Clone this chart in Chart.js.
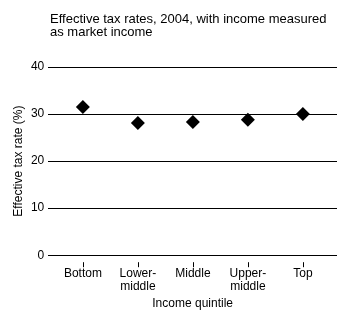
<!DOCTYPE html>
<html>
<head>
<meta charset="utf-8">
<script src="https://cdn.jsdelivr.net/npm/chart.js@4"></script>
<style>
  html, body { margin: 0; padding: 0; background: #fff; }
  #wrap { width: 350px; height: 325px; }
</style>
</head>
<body>
<div id="wrap"><canvas id="taxChart"></canvas></div>
<script>
        // Data
        const quintiles = [['Bottom'], ['Lower-', 'middle'], ['Middle'], ['Upper-', 'middle'], ['Top']];
        const taxRates = [31.5, 28.1, 28.3, 28.8, 30.0];
        const yTicks = [0, 10, 20, 30, 40];

        const font = { family: '"Liberation Sans", Arial, sans-serif', size: 12 };

        // Small tick marks that sit a little below the zero line
        const tickMarks = {
            id: 'tickMarks',
            afterDraw(chart) {
                const x = chart.scales.x;
                const c = chart.ctx;
                const bottom = chart.chartArea.bottom;
                c.save();
                c.strokeStyle = '#000';
                c.lineWidth = 1;
                x.ticks.forEach(t => {
                    const px = Math.round(x.getPixelForValue(t.value)) + 0.5;
                    c.beginPath();
                    c.moveTo(px, bottom + 7);
                    c.lineTo(px, bottom + 12);
                    c.stroke();
                });
                c.restore();
            }
        };

        // Move the title so it starts where the plot starts
        const titleShift = {
            id: 'titleShift',
            afterLayout(chart) {
                if (chart.titleBlock) chart.titleBlock.left = 50;
            }
        };

        const ctx = document.getElementById('taxChart').getContext('2d');
        const taxChart = new Chart(ctx, {
            type: 'scatter',
            data: {
                datasets: [{
                    data: taxRates.map((v, i) => ({ x: i, y: v })),
                    pointStyle: 'rectRot',
                    pointRadius: 7,
                    pointHoverRadius: 7,
                    backgroundColor: '#000',
                    borderColor: '#000',
                    borderWidth: 0
                }]
            },
            options: {
                responsive: true,
                maintainAspectRatio: false,
                animation: false,
                layout: { padding: { left: 11, right: 13, bottom: 14 } },
                plugins: {
                    legend: { display: false },
                    tooltip: { enabled: false },
                    title: {
                        display: true,
                        align: 'start',
                        text: ['Effective tax rates, 2004, with income measured', 'as market income'],
                        color: '#000',
                        font: { ...font, size: 13, weight: 'normal', lineHeight: 1.0 },
                        padding: { top: 13, bottom: 28 }
                    }
                },
                scales: {
                    x: {
                        type: 'linear',
                        min: -0.63,
                        max: 4.62,
                        afterBuildTicks: scale => {
                            scale.ticks = quintiles.map((_, i) => ({ value: i }));
                        },
                        grid: { display: false, drawTicks: false },
                        border: { display: false },
                        ticks: {
                            color: '#000',
                            font: { ...font, lineHeight: 1.1 },
                            padding: 12,
                            maxRotation: 0,
                            autoSkip: false,
                            callback: v => quintiles[v]
                        },
                        title: {
                            display: true,
                            text: 'Income quintile',
                            color: '#000',
                            font: font,
                            padding: { top: -9, bottom: 0 }
                        }
                    },
                    y: {
                        min: 0,
                        max: 40,
                        afterBuildTicks: scale => {
                            scale.ticks = yTicks.map(v => ({ value: v }));
                        },
                        grid: { color: '#000', lineWidth: 1, drawTicks: false },
                        border: { display: false },
                        ticks: { color: '#000', font: font, padding: 4 },
                        title: {
                            display: true,
                            text: 'Effective tax rate (%)',
                            color: '#000',
                            font: font,
                            padding: { top: 0, bottom: 1.5 }
                        }
                    }
                }
            },
            plugins: [tickMarks, titleShift]
        });
</script>
</body>
</html>
